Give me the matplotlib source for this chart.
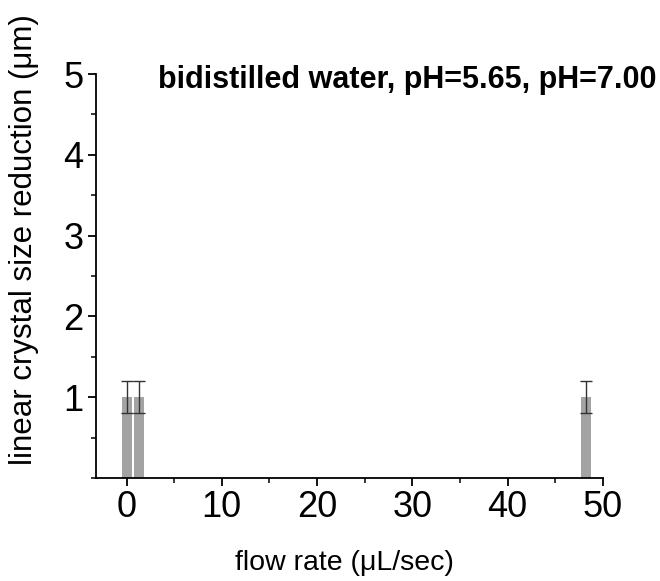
import matplotlib
matplotlib.use("Agg")
import matplotlib.pyplot as plt
from matplotlib.ticker import MultipleLocator

plt.rcParams['font.family'] = ['Liberation Sans', 'DejaVu Sans']

flow_rate = [0.1, 1.3, 48.2]
reduction = [1.0, 1.0, 1.0]
errors = [0.2, 0.2, 0.2]
y_ticks = [1, 2, 3, 4, 5]
x_ticks = [0, 10, 20, 30, 40, 50]

fig = plt.figure(figsize=(6.6, 5.81), dpi=100)
ax = fig.add_axes([0.1455, 0.1773, 0.768, 0.6953])

ax.bar(flow_rate, reduction, width=1.05, color='#a3a3a3', edgecolor='none',
       yerr=errors, error_kw=dict(ecolor='#333333', elinewidth=1.0, capsize=4, capthick=1.0))

ax.set_xlim(-3.2, 50)
ax.set_ylim(0, 5)
ax.set_xticks(x_ticks)
ax.set_yticks(y_ticks)
ax.xaxis.set_minor_locator(MultipleLocator(5))
ax.yaxis.set_minor_locator(MultipleLocator(0.5))
ax.tick_params(axis='both', which='major', labelsize=26, length=6, width=1.3, direction='out', pad=3)
ax.tick_params(axis='both', which='minor', length=3.5, width=1.1, direction='out')
ax.spines['top'].set_visible(False)
ax.spines['right'].set_visible(False)
ax.spines['left'].set_linewidth(1.3)
ax.spines['bottom'].set_linewidth(1.3)

ax.set_ylabel('linear crystal size reduction (\u03bcm)', fontsize=22.5)
ax.yaxis.set_label_coords(-0.112, 0.589)
ax.set_xlabel('flow rate (\u03bcL/sec)', fontsize=20.5)
ax.xaxis.set_label_coords(0.49, -0.178)

ax.text(0.122, 0.985, 'bidistilled water, pH=5.65, pH=7.00', transform=ax.transAxes,
        fontsize=22, fontweight='bold', ha='left', va='center')

fig.savefig('out.png', dpi=100)
